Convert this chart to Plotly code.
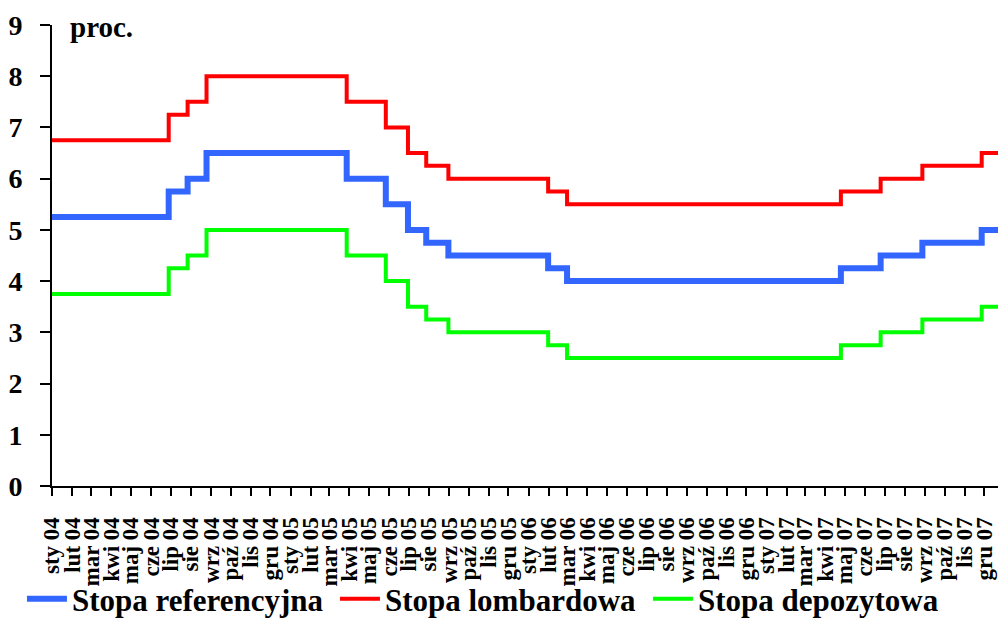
import plotly.graph_objects as go

# ---- data -------------------------------------------------------------
change_dates = ["2004-01-01", "2004-06-28", "2004-07-27", "2004-08-25",
                "2005-03-28", "2005-05-27", "2005-06-30", "2005-07-28",
                "2005-08-31", "2006-01-31", "2006-03-01", "2007-04-25",
                "2007-06-25", "2007-08-28", "2007-11-27", "2007-12-31"]
stopa_referencyjna = [5.25, 5.75, 6.00, 6.50, 6.00, 5.50, 5.00, 4.75,
                      4.50, 4.25, 4.00, 4.25, 4.50, 4.75, 5.00, 5.00]
stopa_lombardowa = [6.75, 7.25, 7.50, 8.00, 7.50, 7.00, 6.50, 6.25,
                    6.00, 5.75, 5.50, 5.75, 6.00, 6.25, 6.50, 6.50]
stopa_depozytowa = [3.75, 4.25, 4.50, 5.00, 4.50, 4.00, 3.50, 3.25,
                    3.00, 2.75, 2.50, 2.75, 3.00, 3.25, 3.50, 3.50]

month_names = ["sty", "lut", "mar", "kwi", "maj", "cze",
               "lip", "sie", "wrz", "paź", "lis", "gru"]
years = ["04", "05", "06", "07"]
year_full = ["2004", "2005", "2006", "2007"]

tick_vals = [f"{yf}-{m:02d}-01" for yf in year_full for m in range(1, 13)]
tick_text = [f"{mn} {yy}" for yy in years for mn in month_names]

series = [
    ("Stopa referencyjna", stopa_referencyjna, "#3366FF", 6),
    ("Stopa lombardowa", stopa_lombardowa, "#FF0000", 4),
    ("Stopa depozytowa", stopa_depozytowa, "#00FF00", 4),
]

FONT = "Liberation Serif, Times New Roman, serif"

fig = go.Figure()
for name, vals, color, w in series:
    fig.add_trace(go.Scatter(
        x=change_dates, y=vals, name=name, mode="lines",
        line=dict(color=color, width=w, shape="hv"),
    ))

fig.update_layout(
    width=998, height=626,
    margin=dict(l=52, r=0, t=25, b=140, autoexpand=False),
    paper_bgcolor="white", plot_bgcolor="white",
    showlegend=True,
    legend=dict(
        orientation="h", xref="container", yref="container",
        x=0.022, y=-0.012, xanchor="left", yanchor="bottom",
        font=dict(family=FONT, size=31, color="black", weight="bold"),
        itemwidth=40, tracegroupgap=0,
        entrywidthmode="pixels", entrywidth=258,
        borderwidth=0, bgcolor="rgba(0,0,0,0)",
    ),
    xaxis=dict(
        type="date",
        range=["2004-01-01", "2007-12-22"],
        tickmode="array", tickvals=tick_vals, ticktext=tick_text,
        tickangle=-90,
        tickfont=dict(family=FONT, size=23, color="black", weight="bold"),
        ticks="outside", ticklen=8, tickwidth=2, tickcolor="black",
        showline=True, linecolor="black", linewidth=2,
        showgrid=False, zeroline=False, ticklabelstandoff=12,
    ),
    yaxis=dict(
        range=[0, 9], dtick=1, tick0=0,
        tickfont=dict(family=FONT, size=28, color="black", weight="bold"),
        ticks="outside", ticklen=10, tickwidth=2, tickcolor="black",
        showline=True, linecolor="black", linewidth=2,
        showgrid=False, zeroline=False, ticklabelstandoff=12,
    ),
    annotations=[dict(
        text="proc.", xref="paper", yref="paper", x=0.017, y=0.996,
        xanchor="left", yanchor="middle", showarrow=False,
        font=dict(family=FONT, size=29, color="black", weight="bold"),
    )],
)

fig.write_html("out.html")
